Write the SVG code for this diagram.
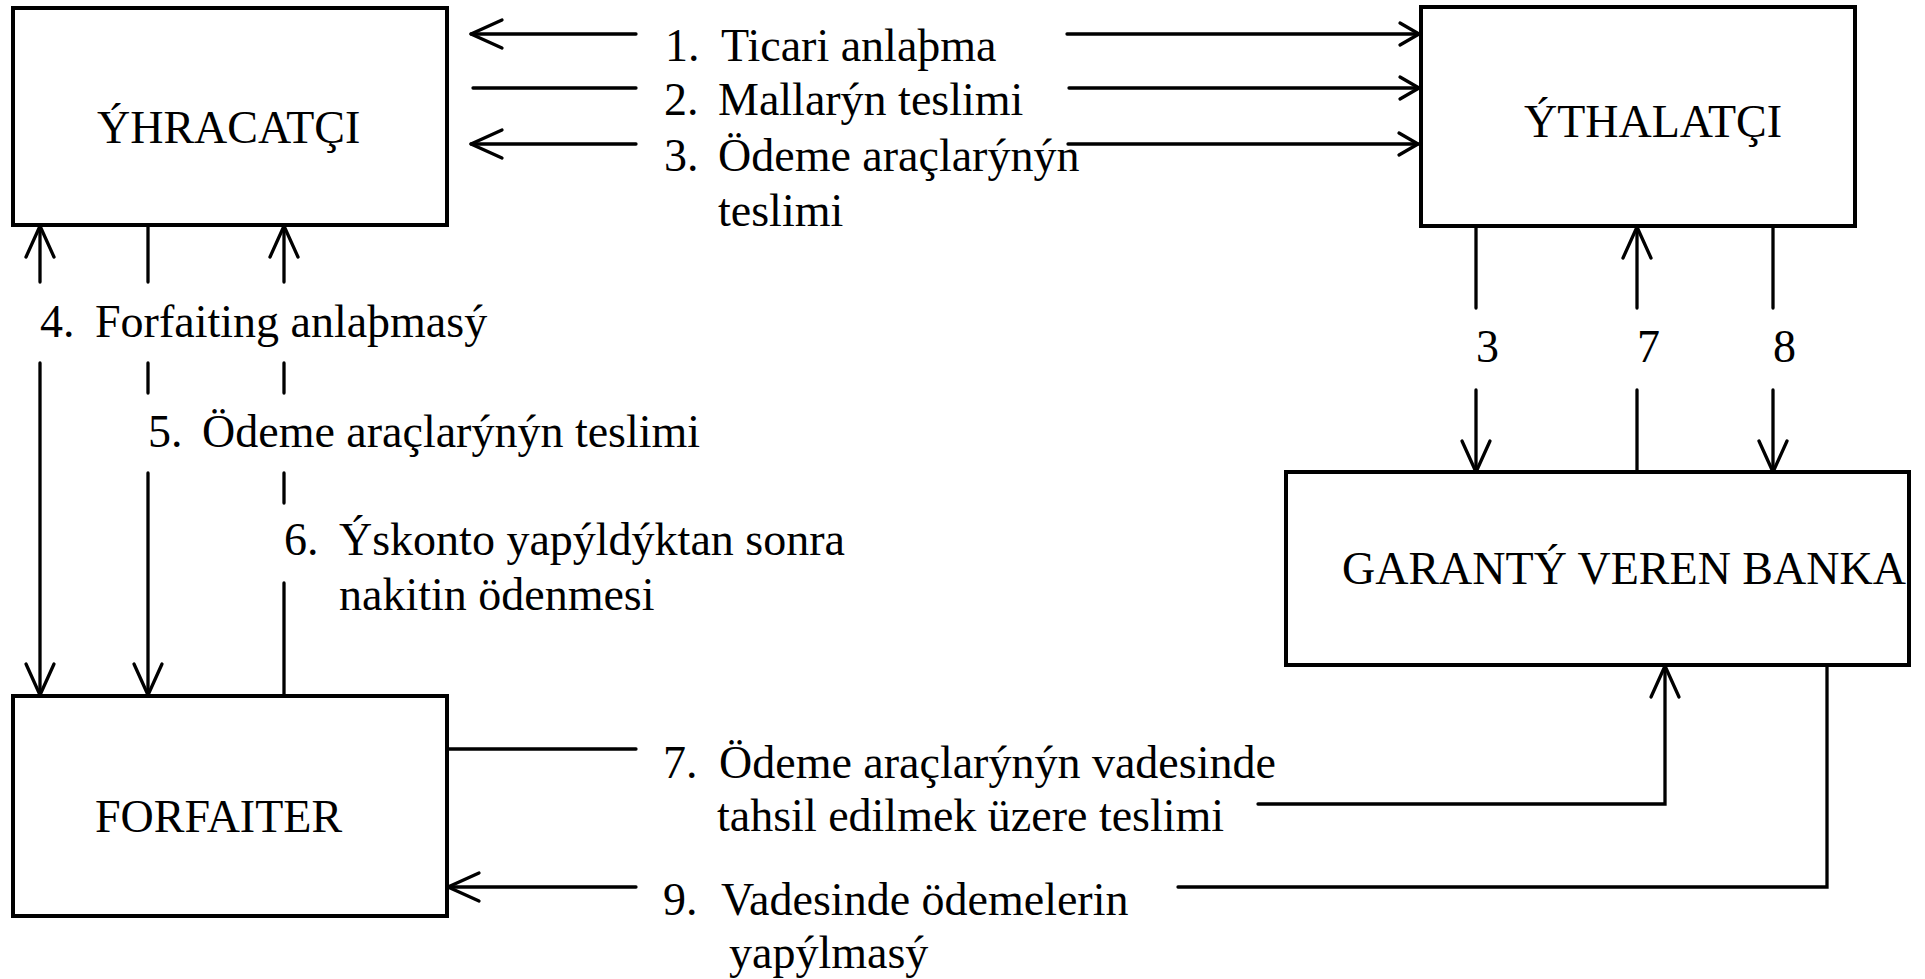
<svg xmlns="http://www.w3.org/2000/svg" width="1925" height="979" viewBox="0 0 1925 979">
<style>
.box{fill:#fff;stroke:#000;stroke-width:4}
.c{fill:none;stroke:#000;stroke-width:3.3;stroke-linecap:round}
text{font-family:"Liberation Serif","Times New Roman",serif;font-size:46px;fill:#000}
</style>
<defs>
<marker id="ah" markerUnits="userSpaceOnUse" markerWidth="40" markerHeight="40" viewBox="-36 -20 40 40" refX="0" refY="0" orient="auto" overflow="visible">
<path d="M-31,-14 L0,0 L-31,14" fill="none" stroke="#000" stroke-width="3.3" stroke-linecap="round" stroke-linejoin="round"/>
</marker>
<marker id="ahs" markerUnits="userSpaceOnUse" markerWidth="30" markerHeight="30" viewBox="-24 -15 30 30" refX="0" refY="0" orient="auto" overflow="visible">
<path d="M-19,-11 L0,0 L-19,11" fill="none" stroke="#000" stroke-width="3.3" stroke-linecap="round" stroke-linejoin="round"/>
</marker>
</defs>
<rect width="1925" height="979" fill="#fff"/>

<g id="connectors">
<line class="c" x1="636" y1="34" x2="471" y2="34" marker-end="url(#ah)"/>
<line class="c" x1="1067" y1="34" x2="1419" y2="34" marker-end="url(#ahs)"/>
<line class="c" x1="473" y1="88" x2="636" y2="88"/>
<line class="c" x1="1069" y1="88" x2="1419" y2="88" marker-end="url(#ahs)"/>
<line class="c" x1="636" y1="144" x2="471" y2="144" marker-end="url(#ah)"/>
<line class="c" x1="1068" y1="144" x2="1418" y2="144" marker-end="url(#ahs)"/>
<line class="c" x1="1476" y1="227" x2="1476" y2="308"/>
<line class="c" x1="1476" y1="390" x2="1476" y2="472" marker-end="url(#ah)"/>
<line class="c" x1="1637" y1="308" x2="1637" y2="227" marker-end="url(#ah)"/>
<line class="c" x1="1637" y1="390" x2="1637" y2="472"/>
<line class="c" x1="1773" y1="227" x2="1773" y2="308"/>
<line class="c" x1="1773" y1="390" x2="1773" y2="472" marker-end="url(#ah)"/>
<line class="c" x1="40" y1="282" x2="40" y2="226" marker-end="url(#ah)"/>
<line class="c" x1="40" y1="363" x2="40" y2="695" marker-end="url(#ah)"/>
<line class="c" x1="148" y1="226" x2="148" y2="282"/>
<line class="c" x1="148" y1="363" x2="148" y2="393"/>
<line class="c" x1="148" y1="473" x2="148" y2="695" marker-end="url(#ah)"/>
<line class="c" x1="284" y1="282" x2="284" y2="226" marker-end="url(#ah)"/>
<line class="c" x1="284" y1="363" x2="284" y2="393"/>
<line class="c" x1="284" y1="473" x2="284" y2="503"/>
<line class="c" x1="284" y1="583" x2="284" y2="696"/>
<line class="c" x1="447" y1="749" x2="636" y2="749"/>
<polyline class="c" points="1258,804 1665,804 1665,666" marker-end="url(#ah)"/>
<polyline class="c" points="1827,666 1827,887 1178,887"/>
<line class="c" x1="636" y1="887" x2="448" y2="887" marker-end="url(#ah)"/>
</g>

<g id="ihracatci">
<rect class="box" x="13" y="8" width="434" height="217"/>
<text x="97" y="143">ÝHRACATÇI</text>
</g>
<g id="ithalatci">
<rect class="box" x="1421" y="7" width="434" height="219"/>
<text x="1524" y="137">ÝTHALATÇI</text>
</g>
<g id="garanti">
<rect class="box" x="1286" y="472" width="623" height="193"/>
<text x="1342" y="584">GARANTÝ VEREN BANKA</text>
</g>
<g id="forfaiter">
<rect class="box" x="13" y="696" width="434" height="220"/>
<text x="95" y="832">FORFAITER</text>
</g>

<g id="labels">
<text y="61"><tspan x="665">1.</tspan><tspan x="721">Ticari anlaþma</tspan></text>
<text y="115"><tspan x="664">2.</tspan><tspan x="718">Mallarýn teslimi</tspan></text>
<text y="171"><tspan x="664">3.</tspan><tspan x="718">Ödeme araçlarýnýn</tspan></text>
<text x="718" y="226">teslimi</text>
<text x="1476" y="362">3</text>
<text x="1637" y="362">7</text>
<text x="1773" y="362">8</text>
<text y="337"><tspan x="40">4.</tspan><tspan x="95">Forfaiting anlaþmasý</tspan></text>
<text y="447"><tspan x="148">5.</tspan><tspan x="202">Ödeme araçlarýnýn teslimi</tspan></text>
<text y="555"><tspan x="284">6.</tspan><tspan x="339">Ýskonto yapýldýktan sonra</tspan></text>
<text x="339" y="610">nakitin ödenmesi</text>
<text y="778"><tspan x="663">7.</tspan><tspan x="719">Ödeme araçlarýnýn vadesinde</tspan></text>
<text x="717" y="831">tahsil edilmek üzere teslimi</text>
<text y="915"><tspan x="663">9.</tspan><tspan x="721">Vadesinde ödemelerin</tspan></text>
<text x="729" y="968">yapýlmasý</text>
</g>
</svg>
